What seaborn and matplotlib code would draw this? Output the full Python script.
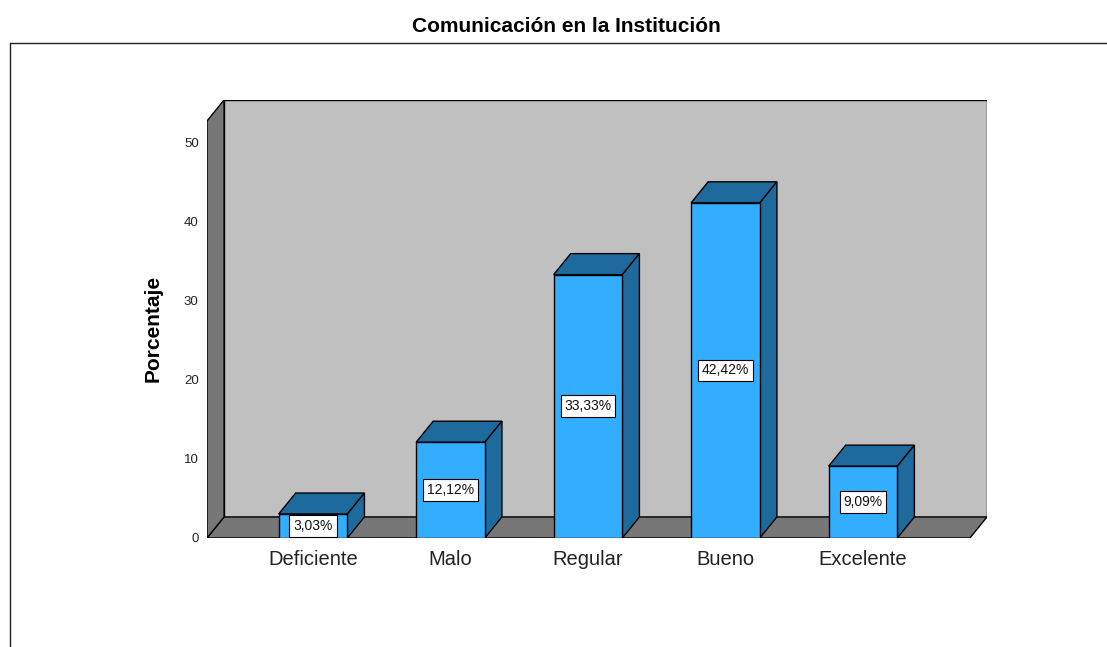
import matplotlib
matplotlib.use('Agg')
import matplotlib.pyplot as plt
from matplotlib.patches import Polygon, Rectangle
from matplotlib.lines import Line2D
import seaborn as sns
import pandas as pd

# data
categorias = ['Deficiente', 'Malo', 'Regular', 'Bueno', 'Excelente']
porcentajes = [3.03, 12.12, 33.33, 42.42, 9.09]
y_ticks = [0, 10, 20, 30, 40, 50]

df = pd.DataFrame({'categoria': categorias, 'porcentaje': porcentajes})

sns.set_theme(style='white')
plt.rcParams['font.family'] = ['Liberation Sans', 'DejaVu Sans']

color_frente = '#33AEFF'
color_lado = '#1F6A9C'
color_pared = '#C0C0C0'
color_piso = '#777777'

fig = plt.figure(figsize=(11.07, 6.47), dpi=100)
ax = fig.add_axes([0.187, 0.1685, 0.7046, 0.677])

# depth of the pseudo-3d effect, in data units
dx = 0.124
dy = 2.66
x_min, x_max = -0.771, 4.902
y_max = 55.44

# back wall, floor and left wall
ax.add_patch(Polygon([(x_min + dx, dy), (x_max, dy), (x_max, y_max), (x_min + dx, y_max)],
                     closed=True, fc=color_pared, ec='black', lw=1, zorder=0))
ax.add_patch(Polygon([(x_min, 0), (x_min + dx, dy), (x_max, dy), (x_max - dx, 0)],
                     closed=True, fc=color_piso, ec='black', lw=1, zorder=0.5))
ax.add_patch(Polygon([(x_min, 0), (x_min + dx, dy), (x_min + dx, y_max), (x_min, y_max - dy)],
                     closed=True, fc=color_piso, ec='black', lw=1, zorder=0.5))

sns.barplot(data=df, x='categoria', y='porcentaje', color=color_frente, saturation=1,
            width=0.5, edgecolor='black', linewidth=1, ax=ax, zorder=3)

barras = [p for p in ax.patches if isinstance(p, Rectangle)]
for barra, val in zip(barras, porcentajes):
    x0 = barra.get_x()
    x1 = x0 + barra.get_width()
    h = barra.get_height()
    tapa = [(x0, h), (x0 + dx, h + dy), (x1 + dx, h + dy), (x1, h)]
    lado = [(x1, 0), (x1, h), (x1 + dx, h + dy), (x1 + dx, dy)]
    ax.add_patch(Polygon(tapa, closed=True, fc=color_lado, ec='black', lw=1, zorder=2))
    ax.add_patch(Polygon(lado, closed=True, fc=color_lado, ec='black', lw=1, zorder=2))
    etiqueta = f'{val:.2f}'.replace('.', ',') + '%'
    ax.text((x0 + x1) / 2, h / 2, etiqueta, ha='center', va='center', fontsize=10,
            color='#111111', zorder=5,
            bbox=dict(boxstyle='square,pad=0.28', fc='white', ec='black', lw=0.8))

ax.set_xlim(x_min, x_max)
ax.set_ylim(0, y_max)
ax.set_yticks(y_ticks)
ax.set_xlabel('')
ax.set_ylabel('Porcentaje', fontsize=15, fontweight='bold', color='black')
ax.yaxis.set_label_coords(-0.057, 0.479)
ax.tick_params(axis='y', length=0, pad=6, labelsize=9.5, labelcolor='#222222')
ax.tick_params(axis='x', length=0, pad=9, labelsize=14.5, labelcolor='#222222')
for s in ax.spines.values():
    s.set_visible(False)
ax.set_facecolor('none')

fig.text(566 / 1107, 1 - 27 / 647, 'Comunicación en la Institución', ha='center', va='center',
         fontsize=15, fontweight='bold', color='black')

# outer frame
fig.add_artist(Line2D([10 / 1107, 10 / 1107], [0, 1 - 43 / 647], color='#222222', lw=1))
fig.add_artist(Line2D([10 / 1107, 1], [1 - 43 / 647, 1 - 43 / 647], color='#222222', lw=1))

fig.savefig('out.png', dpi=100)
